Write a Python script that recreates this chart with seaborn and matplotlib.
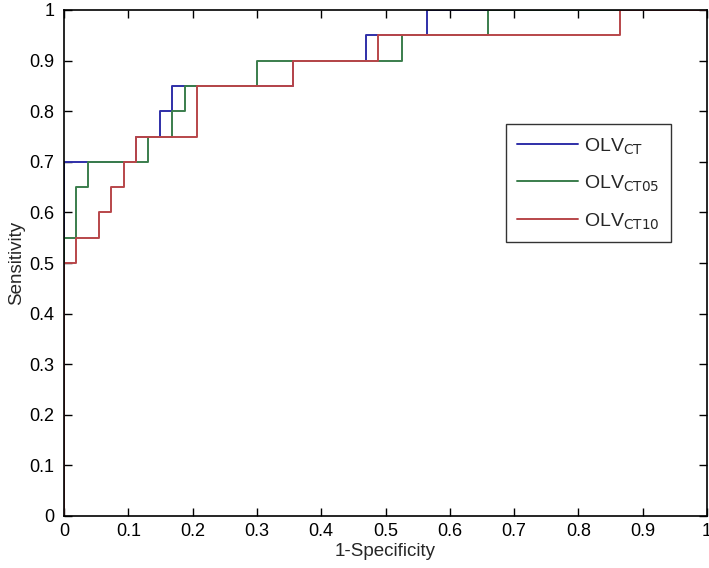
import matplotlib
matplotlib.use("Agg")
import matplotlib.pyplot as plt
import pandas as pd
import seaborn as sns

# ROC breakpoints (x where the curve jumps, new sensitivity)
fpr_ct = [0.0, 0.0, 0.112, 0.150, 0.168, 0.356, 0.470, 0.564, 1.0]
tpr_ct = [0.0, 0.70, 0.75, 0.80, 0.85, 0.90, 0.95, 1.00, 1.0]

fpr_ct05 = [0.0, 0.0, 0.019, 0.037, 0.131, 0.168, 0.188, 0.300, 0.525, 0.659, 1.0]
tpr_ct05 = [0.0, 0.55, 0.65, 0.70, 0.75, 0.80, 0.85, 0.90, 0.95, 1.00, 1.0]

fpr_ct10 = [0.0, 0.0, 0.019, 0.054, 0.073, 0.094, 0.112, 0.207, 0.356, 0.489, 0.865, 1.0]
tpr_ct10 = [0.0, 0.50, 0.55, 0.60, 0.65, 0.70, 0.75, 0.85, 0.90, 0.95, 1.00, 1.0]

labels = [r"OLV$_{\mathrm{CT}}$", r"OLV$_{\mathrm{CT05}}$", r"OLV$_{\mathrm{CT10}}$"]
colors = ["#2f2fa8", "#3a7d4c", "#b8464a"]

ticks = [0, 0.1, 0.2, 0.3, 0.4, 0.5, 0.6, 0.7, 0.8, 0.9, 1]
tick_labels = ["0", "0.1", "0.2", "0.3", "0.4", "0.5", "0.6", "0.7", "0.8", "0.9", "1"]

frames = []
for lab, xs, ys in zip(labels, [fpr_ct, fpr_ct05, fpr_ct10], [tpr_ct, tpr_ct05, tpr_ct10]):
    frames.append(pd.DataFrame({"fpr": xs, "tpr": ys, "curve": lab}))
df = pd.concat(frames, ignore_index=True)

sns.set_theme(style="white")
plt.rcParams["font.family"] = ["Liberation Sans", "DejaVu Sans"]
plt.rcParams["mathtext.default"] = "regular"

fig = plt.figure(figsize=(7.09, 5.68), dpi=100)
ax = fig.add_axes([64 / 709, 1 - 516 / 568, 643 / 709, 506 / 568])

sns.lineplot(data=df, x="fpr", y="tpr", hue="curve", palette=colors,
             estimator=None, sort=False, drawstyle="steps-post",
             linewidth=1.4, ax=ax)

ax.set_xlim(0, 1)
ax.set_ylim(0, 1)
ax.set_xticks(ticks)
ax.set_xticklabels(tick_labels)
ax.set_yticks(ticks)
ax.set_yticklabels(tick_labels)
ax.tick_params(direction="in", length=6, width=1, colors="black", labelsize=13,
               top=True, right=True, bottom=True, left=True)
ax.tick_params(axis="y", pad=7)
ax.tick_params(axis="x", pad=5)
for s in ax.spines.values():
    s.set_color("black")
    s.set_linewidth(1.2)
ax.set_xlabel("1-Specificity", fontsize=13.5, labelpad=2)
ax.set_ylabel("Sensitivity", fontsize=13.5, labelpad=3)

leg = ax.legend(title=None, loc="upper left", bbox_to_anchor=(0.687, 0.775),
                frameon=True, fancybox=False, fontsize=14, handlelength=3.1,
                borderpad=0.6, labelspacing=0.9, handletextpad=0.3,
                borderaxespad=0)
leg.get_frame().set_edgecolor("black")
leg.get_frame().set_linewidth(1.0)

fig.savefig("out.png", dpi=100)
